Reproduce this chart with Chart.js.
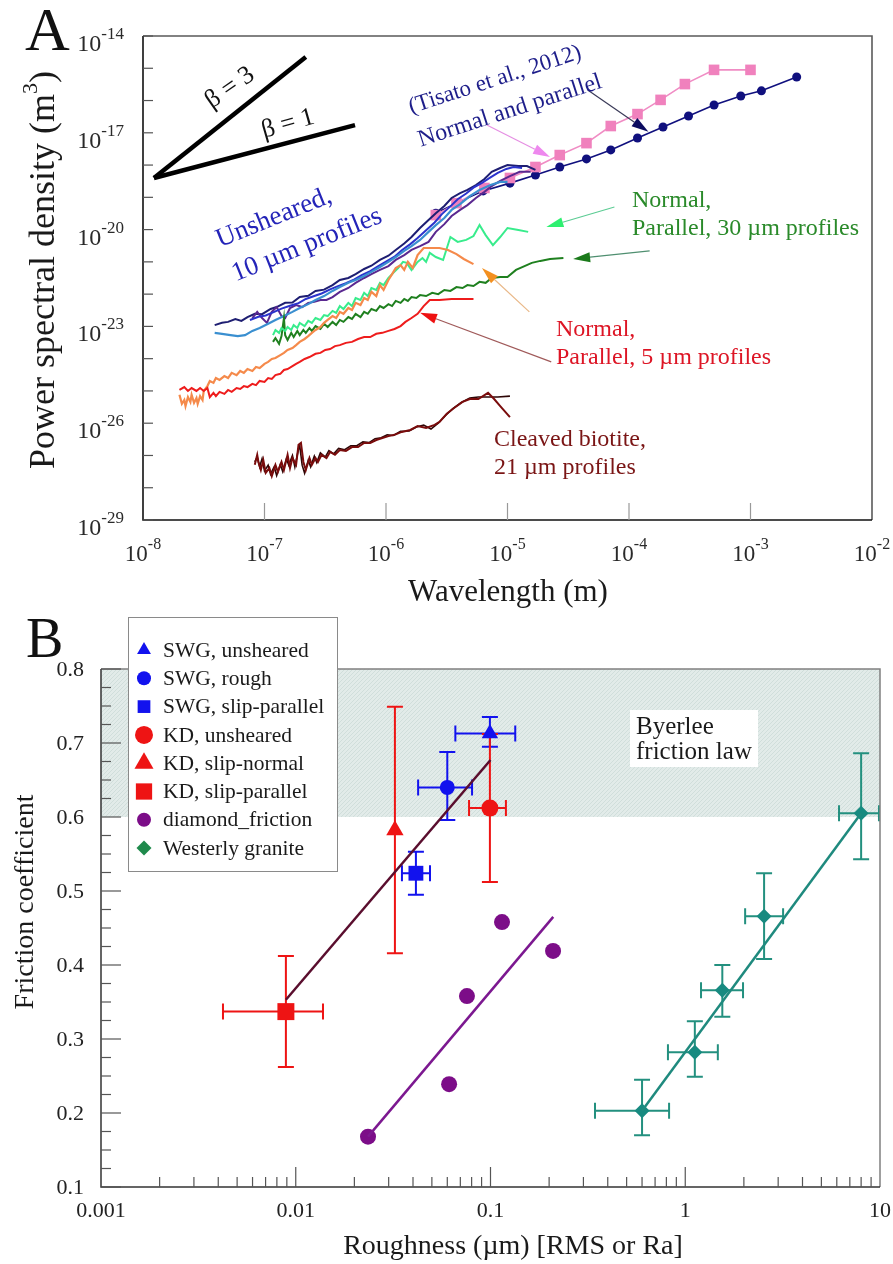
<!DOCTYPE html>
<html>
<head>
<meta charset="utf-8">
<script src="https://cdn.jsdelivr.net/npm/chart.js@4.4.1/dist/chart.umd.min.js"></script>
<style>
  html, body { margin: 0; padding: 0; background: #fff; }
  .panel { position: absolute; left: 0; width: 893px; }
  #panelA { top: 0; height: 610px; }
  #panelB { top: 610px; height: 654px; }
</style>
</head>
<body>
<div class="panel" id="panelA"><canvas id="chartA" width="893" height="610"></canvas></div>
<div class="panel" id="panelB"><canvas id="chartB" width="893" height="654"></canvas></div>
<script>
// ---------- Panel A : PSD vs wavelength, values given as [log10 wavelength (m), log10 PSD (m^3)] ----------
const wavelengthDecades = [-8, -7, -6, -5, -4, -3, -2];
const psdLabelDecades = [-14, -17, -20, -23, -26, -29];

const slopeBeta3 = [[-7.91, -18.40], [-6.66, -14.65]];
const slopeBeta1 = [[-7.91, -18.40], [-6.255, -16.76]];

// unsheared, 10 um profiles
const psdNavy = [[-7.41,-22.96],[-7.35,-22.89],[-7.30,-22.86],[-7.24,-22.77],[-7.19,-22.83],[-7.14,-22.71],[-7.08,-22.61],[-7.02,-22.62],[-6.95,-22.46],[-6.90,-22.40],[-6.83,-22.27],[-6.77,-22.26],[-6.71,-22.09],[-6.64,-22.05],[-6.58,-21.90],[-6.51,-21.86],[-6.44,-21.72],[-6.38,-21.56],[-6.31,-21.50],[-6.25,-21.38],[-6.18,-21.22],[-6.12,-21.12],[-6.05,-20.94],[-5.98,-20.81],[-5.92,-20.63],[-5.85,-20.43],[-5.79,-20.23],[-5.72,-19.95],[-5.65,-19.70],[-5.59,-19.49],[-5.52,-19.27],[-5.46,-19.02],[-5.39,-18.87],[-5.33,-18.77],[-5.26,-18.62],[-5.19,-18.43],[-5.13,-18.21],[-5.06,-18.09],[-5.00,-18.00],[-4.91,-18.03],[-4.84,-18.03],[-4.77,-18.15]];
const psdBlue = [[-7.12,-22.80],[-7.05,-22.70],[-6.99,-22.66],[-6.92,-22.55],[-6.86,-22.45],[-6.79,-22.36],[-6.72,-22.28],[-6.66,-22.15],[-6.59,-22.06],[-6.53,-21.98],[-6.46,-21.85],[-6.40,-21.76],[-6.33,-21.66],[-6.26,-21.54],[-6.20,-21.41],[-6.13,-21.29],[-6.07,-21.15],[-6.00,-20.99],[-5.93,-20.84],[-5.87,-20.64],[-5.80,-20.45],[-5.74,-20.26],[-5.67,-20.02],[-5.60,-19.78],[-5.54,-19.52],[-5.47,-19.28],[-5.41,-19.06],[-5.34,-18.88],[-5.28,-18.70],[-5.21,-18.55],[-5.14,-18.38],[-5.08,-18.24],[-5.01,-18.12],[-4.95,-18.06],[-4.88,-18.09]];
const psdSky = [[-7.41,-23.20],[-7.35,-23.23],[-7.28,-23.27],[-7.22,-23.30],[-7.16,-23.27],[-7.10,-23.14],[-7.04,-23.05],[-6.97,-22.92],[-6.91,-22.80],[-6.84,-22.68],[-6.77,-22.55],[-6.71,-22.43],[-6.64,-22.31],[-6.58,-22.18],[-6.51,-22.06],[-6.44,-21.90],[-6.38,-21.78],[-6.31,-21.65],[-6.25,-21.56],[-6.18,-21.44],[-6.12,-21.31],[-6.05,-21.16],[-5.98,-21.00],[-5.92,-20.85],[-5.85,-20.66],[-5.79,-20.51],[-5.72,-20.32],[-5.65,-20.07],[-5.59,-19.86],[-5.52,-19.64],[-5.46,-19.39],[-5.39,-19.21],[-5.31,-18.96],[-5.23,-18.77],[-5.14,-18.62],[-5.06,-18.52],[-5.00,-18.52]];
const psdPurple = [[-7.10,-22.74],[-7.06,-22.55],[-7.02,-22.74],[-6.98,-22.89],[-6.94,-22.55],[-6.90,-22.40],[-6.86,-22.68],[-6.83,-22.74],[-6.79,-22.43],[-6.74,-22.34],[-6.69,-22.40],[-6.64,-22.27],[-6.59,-22.24],[-6.54,-22.18],[-6.49,-22.18],[-6.44,-22.09],[-6.38,-21.93],[-6.31,-21.81],[-6.25,-21.65],[-6.18,-21.50],[-6.12,-21.38],[-6.05,-21.25],[-5.98,-21.13],[-5.92,-20.94],[-5.85,-20.79],[-5.79,-20.63],[-5.72,-20.51],[-5.65,-20.38],[-5.59,-20.07],[-5.52,-19.83],[-5.46,-19.58],[-5.39,-19.39],[-5.33,-19.24],[-5.26,-19.02],[-5.19,-18.83],[-5.13,-18.65],[-5.06,-18.49],[-4.98,-18.34],[-4.90,-18.21],[-4.81,-18.21]];

// 30 um profiles
const psdGreenParallel = [[-6.93,-23.48],[-6.91,-23.36],[-6.88,-23.54],[-6.86,-23.30],[-6.84,-22.74],[-6.83,-23.27],[-6.81,-23.42],[-6.78,-23.20],[-6.76,-23.33],[-6.73,-23.14],[-6.71,-23.27],[-6.68,-23.11],[-6.66,-23.20],[-6.63,-23.05],[-6.61,-23.14],[-6.58,-22.99],[-6.54,-23.08],[-6.51,-22.92],[-6.48,-23.02],[-6.44,-22.86],[-6.41,-22.96],[-6.38,-22.80],[-6.35,-22.86],[-6.31,-22.71],[-6.28,-22.77],[-6.25,-22.61],[-6.21,-22.71],[-6.18,-22.55],[-6.15,-22.61],[-6.12,-22.46],[-6.08,-22.52],[-6.05,-22.37],[-6.02,-22.43],[-5.98,-22.31],[-5.95,-22.37],[-5.92,-22.21],[-5.88,-22.27],[-5.85,-22.15],[-5.82,-22.21],[-5.79,-22.09],[-5.75,-22.12],[-5.72,-22.03],[-5.67,-22.06],[-5.62,-21.96],[-5.57,-22.00],[-5.52,-21.87],[-5.47,-21.90],[-5.42,-21.78],[-5.37,-21.81],[-5.33,-21.72],[-5.28,-21.75],[-5.23,-21.62],[-5.18,-21.65],[-5.13,-21.50],[-5.06,-21.47],[-5.00,-21.47],[-4.93,-21.25],[-4.86,-21.13],[-4.80,-21.03],[-4.73,-20.97],[-4.65,-20.91],[-4.54,-20.88]];
const psdGreenNormal = [[-6.93,-23.27],[-6.91,-23.11],[-6.88,-23.20],[-6.86,-23.05],[-6.83,-23.14],[-6.81,-23.02],[-6.78,-23.11],[-6.76,-22.96],[-6.73,-23.05],[-6.71,-22.89],[-6.67,-22.99],[-6.64,-22.83],[-6.61,-22.89],[-6.58,-22.74],[-6.54,-22.80],[-6.51,-22.65],[-6.48,-22.68],[-6.44,-22.52],[-6.41,-22.58],[-6.38,-22.37],[-6.35,-22.46],[-6.31,-22.27],[-6.28,-22.37],[-6.25,-22.12],[-6.21,-22.18],[-6.18,-21.96],[-6.15,-22.06],[-6.12,-21.81],[-6.08,-21.87],[-6.05,-21.65],[-6.02,-21.72],[-5.98,-21.50],[-5.94,-21.34],[-5.90,-21.19],[-5.86,-21.00],[-5.83,-21.03],[-5.79,-21.25],[-5.74,-21.00],[-5.70,-20.88],[-5.67,-21.00],[-5.64,-20.72],[-5.59,-20.85],[-5.53,-20.94],[-5.47,-20.23],[-5.41,-20.38],[-5.34,-20.32],[-5.28,-20.20],[-5.23,-19.86],[-5.18,-20.17],[-5.12,-20.48],[-5.06,-20.23],[-5.00,-19.95],[-4.91,-20.01],[-4.83,-20.07]];

// 5 um profiles
const psdOrangeNormal = [[-7.70,-25.12],[-7.68,-25.40],[-7.66,-25.28],[-7.65,-25.47],[-7.63,-25.19],[-7.61,-25.34],[-7.60,-25.12],[-7.58,-25.37],[-7.56,-25.22],[-7.55,-25.40],[-7.53,-25.16],[-7.51,-25.28],[-7.50,-25.00],[-7.47,-24.85],[-7.45,-24.69],[-7.42,-24.75],[-7.40,-24.60],[-7.37,-24.66],[-7.33,-24.54],[-7.30,-24.60],[-7.27,-24.44],[-7.23,-24.51],[-7.20,-24.38],[-7.17,-24.44],[-7.14,-24.32],[-7.10,-24.38],[-7.07,-24.26],[-7.04,-24.29],[-7.00,-24.16],[-6.97,-24.10],[-6.94,-24.01],[-6.91,-23.98],[-6.87,-23.89],[-6.84,-23.82],[-6.81,-23.73],[-6.77,-23.67],[-6.74,-23.58],[-6.71,-23.48],[-6.67,-23.39],[-6.64,-23.30],[-6.61,-23.20],[-6.58,-23.11],[-6.54,-23.02],[-6.51,-22.89],[-6.48,-22.80],[-6.44,-22.68],[-6.41,-22.74],[-6.38,-22.55],[-6.35,-22.61],[-6.31,-22.43],[-6.28,-22.49],[-6.25,-22.27],[-6.21,-22.34],[-6.18,-22.12],[-6.15,-22.18],[-6.12,-21.93],[-6.08,-22.06],[-6.05,-21.72],[-6.02,-21.87],[-5.98,-21.56],[-5.95,-21.38],[-5.92,-21.19],[-5.88,-21.10],[-5.85,-21.25],[-5.82,-21.00],[-5.78,-21.19],[-5.74,-20.79],[-5.69,-20.57],[-5.62,-20.57],[-5.56,-20.57],[-5.49,-20.63],[-5.42,-20.76],[-5.36,-20.91],[-5.28,-21.07]];
const psdRedParallel = [[-7.70,-24.97],[-7.66,-24.88],[-7.63,-25.00],[-7.60,-24.91],[-7.56,-25.00],[-7.53,-24.91],[-7.50,-25.00],[-7.47,-24.91],[-7.45,-25.19],[-7.42,-25.06],[-7.40,-25.16],[-7.37,-25.03],[-7.33,-25.09],[-7.30,-24.97],[-7.27,-25.03],[-7.23,-24.91],[-7.20,-24.94],[-7.17,-24.85],[-7.14,-24.88],[-7.10,-24.78],[-7.07,-24.82],[-7.04,-24.69],[-7.00,-24.72],[-6.97,-24.60],[-6.94,-24.63],[-6.91,-24.51],[-6.87,-24.47],[-6.84,-24.35],[-6.81,-24.32],[-6.77,-24.23],[-6.74,-24.16],[-6.71,-24.10],[-6.67,-24.01],[-6.63,-23.95],[-6.58,-23.85],[-6.54,-23.82],[-6.50,-23.73],[-6.46,-23.70],[-6.42,-23.61],[-6.38,-23.58],[-6.33,-23.51],[-6.28,-23.48],[-6.23,-23.39],[-6.18,-23.33],[-6.13,-23.33],[-6.08,-23.23],[-6.03,-23.20],[-5.98,-23.14],[-5.93,-23.08],[-5.88,-22.99],[-5.84,-22.86],[-5.79,-22.74],[-5.74,-22.61],[-5.69,-22.37],[-5.64,-22.18],[-5.56,-22.18],[-5.46,-22.15],[-5.36,-22.15],[-5.28,-22.15]];

// cleaved biotite, 21 um profiles
const psdBiotiteA = [[-7.08,-27.29],[-7.06,-26.98],[-7.05,-27.20],[-7.03,-27.45],[-7.01,-27.14],[-6.99,-27.54],[-6.96,-27.39],[-6.94,-27.64],[-6.91,-27.29],[-6.89,-27.51],[-6.86,-27.20],[-6.84,-27.45],[-6.81,-26.98],[-6.79,-27.39],[-6.77,-27.08],[-6.74,-27.29],[-6.72,-26.67],[-6.70,-26.61],[-6.68,-27.20],[-6.66,-27.45],[-6.63,-27.08],[-6.61,-27.29],[-6.58,-27.08],[-6.56,-27.20],[-6.53,-26.98],[-6.49,-27.08],[-6.46,-26.89],[-6.42,-26.98],[-6.38,-26.83],[-6.33,-26.86],[-6.28,-26.74],[-6.23,-26.74],[-6.18,-26.61],[-6.13,-26.61],[-6.08,-26.52],[-6.03,-26.46],[-5.98,-26.40],[-5.93,-26.36],[-5.87,-26.27],[-5.80,-26.21],[-5.74,-26.09],[-5.67,-26.15],[-5.60,-26.05],[-5.56,-25.96],[-5.50,-25.71],[-5.44,-25.53],[-5.37,-25.34],[-5.31,-25.25],[-5.24,-25.25],[-5.16,-25.06],[-5.11,-25.25],[-5.06,-25.47],[-4.98,-25.81]];
const psdBiotiteB = [[-7.08,-27.20],[-7.06,-27.05],[-7.04,-27.35],[-7.02,-27.10],[-7.00,-27.48],[-6.97,-27.30],[-6.95,-27.58],[-6.92,-27.35],[-6.90,-27.62],[-6.87,-27.28],[-6.85,-27.50],[-6.82,-27.10],[-6.80,-27.30],[-6.77,-27.00],[-6.75,-27.35],[-6.72,-26.80],[-6.71,-26.70],[-6.69,-27.30],[-6.67,-27.55],[-6.64,-27.15],[-6.62,-27.35],[-6.59,-27.02],[-6.57,-27.22],[-6.54,-26.92],[-6.50,-27.05],[-6.47,-26.85],[-6.43,-26.95],[-6.39,-26.78],[-6.34,-26.82],[-6.29,-26.70],[-6.24,-26.70],[-6.19,-26.58],[-6.14,-26.60],[-6.09,-26.48],[-6.04,-26.45],[-5.99,-26.36],[-5.94,-26.38],[-5.88,-26.25],[-5.81,-26.24],[-5.75,-26.12],[-5.69,-26.06],[-5.63,-26.18],[-5.57,-26.00],[-5.51,-25.76],[-5.45,-25.55],[-5.38,-25.36],[-5.31,-25.22],[-5.24,-25.19],[-5.16,-25.19],[-5.08,-25.19],[-4.98,-25.16]];

// Tisato et al. (2012)
const tisatoNormal = [[-5.59,-19.49],[-5.42,-19.18],[-5.20,-18.80],[-4.98,-18.56],[-4.77,-18.31],[-4.57,-18.06],[-4.35,-17.81],[-4.15,-17.53],[-3.93,-17.16],[-3.72,-16.82],[-3.51,-16.48],[-3.30,-16.14],[-3.08,-15.86],[-2.91,-15.70],[-2.62,-15.27]];
const tisatoParallel = [[-5.59,-19.55],[-5.42,-19.18],[-5.19,-18.71],[-4.98,-18.40],[-4.77,-18.06],[-4.57,-17.69],[-4.35,-17.32],[-4.15,-16.79],[-3.93,-16.42],[-3.74,-15.98],[-3.54,-15.49],[-3.30,-15.05],[-3.00,-15.05]];

// annotation arrows, [from, to] in the same log units
const arrowsA = [
  { from: [-5.17, -16.76], to: [-4.65, -17.75], line: '#e58fe3', head: '#ee88ee' },
  { from: [-4.34, -15.67], to: [-3.84, -16.97], line: '#3a3a58', head: '#0c0c60' },
  { from: [-4.12, -19.30], to: [-4.68, -19.92], line: '#5ccc94', head: '#2ef070' },
  { from: [-3.83, -20.66], to: [-4.46, -20.91], line: '#4f8f70', head: '#1b7a1b' },
  { from: [-4.82, -22.55], to: [-5.21, -21.19], line: '#e9b888', head: '#f39020' },
  { from: [-4.64, -24.10], to: [-5.72, -22.58], line: '#a05a5a', head: '#ee1111' }
];

// ---------- Panel B : friction vs roughness, rows [x, y, xLow, xHigh, yLow, yHigh] ----------
const roughnessTicks = [0.001, 0.01, 0.1, 1, 10];
const roughnessLabels = ['0.001', '0.01', '0.1', '1', '10'];
const frictionTicks = [0.1, 0.2, 0.3, 0.4, 0.5, 0.6, 0.7, 0.8];
const byerleeRange = [0.6, 0.8];

const swgUnsheared = [[0.0993, 0.713, 0.066, 0.134, 0.695, 0.735]];
const swgRough = [[0.060, 0.640, 0.0425, 0.0804, 0.596, 0.688]];
const swgSlipParallel = [[0.0414, 0.524, 0.0351, 0.0489, 0.495, 0.553]];
const kdUnsheared = [[0.0993, 0.612, 0.0776, 0.120, 0.512, 0.712]];
const kdSlipNormal = [[0.0323, 0.582, null, null, 0.416, 0.749]];
const kdSlipParallel = [[0.0089, 0.337, 0.00423, 0.0138, 0.262, 0.412]];
const diamondFriction = [[0.0235, 0.168], [0.0613, 0.239], [0.0757, 0.358], [0.1146, 0.458], [0.2095, 0.419]];
const westerlyGranite = [
  [0.60, 0.203, 0.344, 0.826, 0.170, 0.245],
  [1.12, 0.282, 0.815, 1.47, 0.249, 0.324],
  [1.55, 0.366, 1.205, 1.98, 0.330, 0.400],
  [2.54, 0.466, 2.03, 3.18, 0.408, 0.524],
  [8.0, 0.605, 6.16, 9.88, 0.543, 0.686]
];
const kdFit = [[0.0089, 0.353], [0.1, 0.677]];
const diamondFit = [[0.0235, 0.168], [0.21, 0.465]];
const graniteFit = [[0.6, 0.203], [8.0, 0.605]];

// ---------- helpers ----------
const SERIF = '"Liberation Serif", "Times New Roman", serif';
const fromLog = rows => rows.map(([lx, ly]) => ({ x: 10 ** lx, y: 10 ** ly }));
const toPts = rows => rows.map(r => ({ x: r[0], y: r[1] }));

function lineSet(rows, color, width) {
  return { data: fromLog(rows), showLine: true, borderColor: color, borderWidth: width || 2, pointRadius: 0, tension: 0 };
}

function drawPower(ctx, exp, x, y, align, baseSize, expSize, lift) {
  const txt = String(exp);
  ctx.font = baseSize + 'px ' + SERIF;
  const wb = ctx.measureText('10').width;
  ctx.font = expSize + 'px ' + SERIF;
  const we = ctx.measureText(txt).width;
  const left = align === 'right' ? x - wb - we : x - (wb + we) / 2;
  ctx.textAlign = 'left';
  ctx.textBaseline = 'alphabetic';
  ctx.font = baseSize + 'px ' + SERIF;
  ctx.fillText('10', left, y);
  ctx.font = expSize + 'px ' + SERIF;
  ctx.fillText(txt, left + wb, y - lift);
}

function drawArrow(ctx, x1, y1, x2, y2, lineColor, headColor) {
  const ang = Math.atan2(y2 - y1, x2 - x1);
  const len = 17, half = 5;
  const bx = x2 - Math.cos(ang) * len, by = y2 - Math.sin(ang) * len;
  ctx.strokeStyle = lineColor;
  ctx.lineWidth = 1.2;
  ctx.beginPath(); ctx.moveTo(x1, y1); ctx.lineTo(bx, by); ctx.stroke();
  ctx.fillStyle = headColor;
  ctx.beginPath();
  ctx.moveTo(x2, y2);
  ctx.lineTo(bx - Math.sin(ang) * half, by + Math.cos(ang) * half);
  ctx.lineTo(bx + Math.sin(ang) * half, by - Math.cos(ang) * half);
  ctx.closePath(); ctx.fill();
}

function rotText(ctx, text, x, y, deg, size, color) {
  ctx.save();
  ctx.translate(x, y);
  ctx.rotate(deg * Math.PI / 180);
  ctx.font = size + 'px ' + SERIF;
  ctx.fillStyle = color;
  ctx.textAlign = 'center';
  ctx.textBaseline = 'middle';
  ctx.fillText(text, 0, 0);
  ctx.restore();
}

function plainText(ctx, text, x, y, size, color, align) {
  ctx.font = size + 'px ' + SERIF;
  ctx.fillStyle = color;
  ctx.textAlign = align || 'left';
  ctx.textBaseline = 'alphabetic';
  ctx.fillText(text, x, y);
}

// ---------- Panel A decorations ----------
const decorA = {
  id: 'decorA',
  afterDraw(chart) {
    const { ctx, chartArea: a, scales: { x, y } } = chart;
    ctx.save();

    // frame
    ctx.lineWidth = 1.6;
    ctx.strokeStyle = '#5a5a5a';
    ctx.beginPath(); ctx.moveTo(a.left, a.top); ctx.lineTo(a.right, a.top); ctx.lineTo(a.right, a.bottom); ctx.stroke();
    ctx.strokeStyle = '#111';
    ctx.beginPath(); ctx.moveTo(a.left, a.top); ctx.lineTo(a.left, a.bottom); ctx.lineTo(a.right, a.bottom); ctx.stroke();

    // ticks
    ctx.lineWidth = 1.2;
    ctx.strokeStyle = '#555';
    for (let e = -29; e <= -14; e++) {
      const py = y.getPixelForValue(10 ** e);
      ctx.beginPath(); ctx.moveTo(a.left, py); ctx.lineTo(a.left + 10, py); ctx.stroke();
    }
    ctx.strokeStyle = '#999';
    wavelengthDecades.slice(1, -1).forEach(e => {
      const px = x.getPixelForValue(10 ** e);
      ctx.beginPath(); ctx.moveTo(px, a.bottom); ctx.lineTo(px, a.bottom - 17); ctx.stroke();
    });

    // tick labels
    ctx.fillStyle = '#2a2a2a';
    psdLabelDecades.forEach(e => drawPower(ctx, e, 124, y.getPixelForValue(10 ** e) + 15, 'right', 24, 17, 12));
    wavelengthDecades.forEach(e => drawPower(ctx, e, x.getPixelForValue(10 ** e), 561, 'center', 23, 16, 12));

    // axis titles
    ctx.fillStyle = '#1a1a1a';
    ctx.font = '31px ' + SERIF;
    ctx.textAlign = 'center'; ctx.textBaseline = 'middle';
    ctx.fillText('Wavelength (m)', 508, 593);

    ctx.save();
    ctx.translate(44, 270);
    ctx.rotate(-Math.PI / 2);
    ctx.font = '36px ' + SERIF;
    const t1 = 'Power spectral density (m';
    const w1 = ctx.measureText(t1).width;
    const w3 = ctx.measureText(')').width;
    ctx.font = '22px ' + SERIF;
    const w2 = ctx.measureText('3').width;
    const sx = -(w1 + w2 + w3) / 2;
    ctx.textAlign = 'left'; ctx.textBaseline = 'alphabetic';
    ctx.font = '36px ' + SERIF; ctx.fillText(t1, sx, 10);
    ctx.font = '22px ' + SERIF; ctx.fillText('3', sx + w1, -7);
    ctx.font = '36px ' + SERIF; ctx.fillText(')', sx + w1 + w2, 10);
    ctx.restore();

    // panel letter
    plainText(ctx, 'A', 25, 50, 62, '#111');

    // slope labels
    rotText(ctx, 'β = 3', 230, 88, -35, 26, '#111');
    rotText(ctx, 'β = 1', 288, 124, -16, 26, '#111');

    // arrows
    arrowsA.forEach(ar => drawArrow(ctx,
      x.getPixelForValue(10 ** ar.from[0]), y.getPixelForValue(10 ** ar.from[1]),
      x.getPixelForValue(10 ** ar.to[0]), y.getPixelForValue(10 ** ar.to[1]),
      ar.line, ar.head));

    // series notes
    rotText(ctx, '(Tisato et al., 2012)', 495, 80, -18, 23, '#1e1e8a');
    rotText(ctx, 'Normal and parallel', 510, 111, -18, 24, '#1e1e8a');
    rotText(ctx, 'Unsheared,', 274, 218, -22, 27, '#2424b8');
    rotText(ctx, '10 µm profiles', 307, 245, -22, 27, '#2424b8');
    plainText(ctx, 'Normal,', 632, 207, 24, '#2a8a2a');
    plainText(ctx, 'Parallel, 30 µm profiles', 632, 235, 24, '#2a8a2a');
    plainText(ctx, 'Normal,', 556, 336, 24, '#dd1525');
    plainText(ctx, 'Parallel, 5 µm profiles', 556, 364, 24, '#dd1525');
    plainText(ctx, 'Cleaved biotite,', 494, 446, 24, '#7a1515');
    plainText(ctx, '21 µm profiles', 494, 474, 24, '#7a1515');

    ctx.restore();
  }
};

new Chart(document.getElementById('chartA'), {
  type: 'scatter',
  data: {
    datasets: [
      lineSet(slopeBeta3, '#000', 4.5),
      lineSet(slopeBeta1, '#000', 4.5),
      lineSet(psdRedParallel, '#ee1c1c', 2),
      lineSet(psdOrangeNormal, '#f58a4b', 2.2),
      lineSet(psdGreenNormal, '#38ec8c', 2),
      lineSet(psdGreenParallel, '#1f801f', 2),
      lineSet(psdBiotiteA, '#7a0c0c', 2),
      lineSet(psdBiotiteB, '#2e0707', 1.6),
      lineSet(psdSky, '#3a8fd0', 2.2),
      lineSet(psdBlue, '#2b33cc', 2),
      lineSet(psdPurple, '#5a2890', 2),
      lineSet(psdNavy, '#1e1e72', 2),
      { data: fromLog(tisatoParallel), showLine: true, borderColor: '#f08cc4', borderWidth: 1.6,
        pointStyle: 'rect', pointRadius: 7.5, pointBackgroundColor: '#f081bd', pointBorderWidth: 0 },
      { data: fromLog(tisatoNormal), showLine: true, borderColor: '#10107e', borderWidth: 1.6,
        pointStyle: 'circle', pointRadius: 4.5, pointBackgroundColor: '#10107e', pointBorderWidth: 0 }
    ]
  },
  options: {
    responsive: false,
    devicePixelRatio: 1,
    animation: false,
    layout: { padding: { left: 143, top: 36, right: 21, bottom: 90 } },
    plugins: { legend: { display: false }, tooltip: { enabled: false } },
    scales: {
      x: { type: 'logarithmic', min: 1e-8, max: 1e-2, display: false },
      y: { type: 'logarithmic', min: 1e-29, max: 1e-14, display: false }
    }
  },
  plugins: [decorA]
});

// ---------- Panel B ----------
function hatchPattern(ctx) {
  const c = document.createElement('canvas');
  c.width = 4; c.height = 4;
  const g = c.getContext('2d');
  g.fillStyle = '#e2ebe9';
  g.fillRect(0, 0, 4, 4);
  g.strokeStyle = '#d0dedb';
  g.lineWidth = 1;
  g.beginPath(); g.moveTo(0, 4); g.lineTo(4, 0); g.stroke();
  return ctx.createPattern(c, 'repeat');
}

function drawMarker(ctx, style, cx, cy, r, color) {
  ctx.fillStyle = color;
  ctx.beginPath();
  if (style === 'circle') {
    ctx.arc(cx, cy, r, 0, Math.PI * 2);
  } else if (style === 'triangle') {
    for (let i = 0; i < 3; i++) {
      const ang = i * 2 * Math.PI / 3;
      const px = cx + Math.sin(ang) * r, py = cy - Math.cos(ang) * r;
      if (i === 0) ctx.moveTo(px, py); else ctx.lineTo(px, py);
    }
    ctx.closePath();
  } else if (style === 'rect') {
    const s = r * Math.SQRT1_2;
    ctx.rect(cx - s, cy - s, 2 * s, 2 * s);
  } else if (style === 'rectRot') {
    ctx.moveTo(cx, cy - r); ctx.lineTo(cx + r, cy); ctx.lineTo(cx, cy + r); ctx.lineTo(cx - r, cy);
    ctx.closePath();
  }
  ctx.fill();
}

const BLUE = '#1212ee', RED = '#ee1414', PURPLE = '#7c0d88', TEAL = '#178a80';

const errorGroups = [
  { rows: swgUnsheared, color: BLUE },
  { rows: swgRough, color: BLUE },
  { rows: swgSlipParallel, color: BLUE },
  { rows: kdSlipNormal, color: RED },
  { rows: kdUnsheared, color: RED },
  { rows: kdSlipParallel, color: RED },
  { rows: westerlyGranite, color: '#23907f' }
];

const legendItems = [
  { label: 'SWG, unsheared', style: 'triangle', r: 8, color: BLUE },
  { label: 'SWG, rough', style: 'circle', r: 7, color: BLUE },
  { label: 'SWG, slip-parallel', style: 'rect', r: 9, color: BLUE },
  { label: 'KD, unsheared', style: 'circle', r: 9, color: RED },
  { label: 'KD, slip-normal', style: 'triangle', r: 11, color: RED },
  { label: 'KD, slip-parallel', style: 'rect', r: 11.5, color: RED },
  { label: 'diamond_friction', style: 'circle', r: 7, color: PURPLE },
  { label: 'Westerly granite', style: 'rectRot', r: 7.5, color: '#1f8a4c' }
];

const decorB = {
  id: 'decorB',
  beforeDatasetsDraw(chart) {
    const { ctx, chartArea: a, scales: { x, y } } = chart;
    ctx.save();
    // Byerlee friction band
    const yTop = y.getPixelForValue(byerleeRange[1]);
    const yBot = y.getPixelForValue(byerleeRange[0]);
    ctx.fillStyle = hatchPattern(ctx);
    ctx.fillRect(a.left, yTop, a.right - a.left, yBot - yTop);

    // error bars
    const cap = 8;
    ctx.lineWidth = 2;
    errorGroups.forEach(({ rows, color }) => rows.forEach(r => {
      const px = x.getPixelForValue(r[0]), py = y.getPixelForValue(r[1]);
      ctx.strokeStyle = color;
      ctx.beginPath();
      if (r[4] != null) {
        const p1 = y.getPixelForValue(r[4]), p2 = y.getPixelForValue(r[5]);
        ctx.moveTo(px, p1); ctx.lineTo(px, p2);
        ctx.moveTo(px - cap, p1); ctx.lineTo(px + cap, p1);
        ctx.moveTo(px - cap, p2); ctx.lineTo(px + cap, p2);
      }
      if (r[2] != null) {
        const q1 = x.getPixelForValue(r[2]), q2 = x.getPixelForValue(r[3]);
        ctx.moveTo(q1, py); ctx.lineTo(q2, py);
        ctx.moveTo(q1, py - cap); ctx.lineTo(q1, py + cap);
        ctx.moveTo(q2, py - cap); ctx.lineTo(q2, py + cap);
      }
      ctx.stroke();
    }));
    ctx.restore();
  },
  afterDatasetsDraw(chart) {
    const { ctx, chartArea: a, scales: { x, y } } = chart;
    ctx.save();

    // frame
    ctx.lineWidth = 1.5;
    ctx.strokeStyle = '#808080';
    ctx.beginPath(); ctx.moveTo(a.left, a.top); ctx.lineTo(a.right, a.top); ctx.lineTo(a.right, a.bottom); ctx.stroke();
    ctx.strokeStyle = '#333';
    ctx.beginPath(); ctx.moveTo(a.left, a.top); ctx.lineTo(a.left, a.bottom); ctx.lineTo(a.right, a.bottom); ctx.stroke();

    // y ticks: majors every 0.1, minors every 0.025
    ctx.lineWidth = 1.2;
    ctx.strokeStyle = '#555';
    for (let i = 0; i <= 28; i++) {
      const v = 0.1 + i * 0.025;
      const py = y.getPixelForValue(v);
      const len = i % 4 === 0 ? 20 : 10;
      ctx.beginPath(); ctx.moveTo(a.left, py); ctx.lineTo(a.left + len, py); ctx.stroke();
    }
    // x ticks: decades and 2..9 minors
    roughnessTicks.slice(0, -1).forEach(d => {
      for (let m = 1; m <= 9; m++) {
        if (d === 0.001 && m === 1) continue;
        const px = x.getPixelForValue(d * m);
        const len = m === 1 ? 20 : 10;
        ctx.beginPath(); ctx.moveTo(px, a.bottom); ctx.lineTo(px, a.bottom - len); ctx.stroke();
      }
    });

    // tick labels
    ctx.fillStyle = '#222';
    ctx.font = '22px ' + SERIF;
    ctx.textAlign = 'right'; ctx.textBaseline = 'middle';
    frictionTicks.forEach(v => ctx.fillText(v.toFixed(1), 84, y.getPixelForValue(v) + 1));
    ctx.textAlign = 'center';
    roughnessTicks.forEach((v, i) => ctx.fillText(roughnessLabels[i], x.getPixelForValue(v), 601));

    // axis titles
    ctx.fillStyle = '#1a1a1a';
    ctx.font = '28px ' + SERIF;
    ctx.fillText('Roughness (µm) [RMS or Ra]', 513, 637);
    rotText(ctx, 'Friction coefficient', 26, 292, -90, 28, '#1a1a1a');

    // panel letter
    plainText(ctx, 'B', 26, 47, 56, '#111');

    // Byerlee label
    ctx.fillStyle = '#fff';
    ctx.fillRect(630, 100, 128, 57);
    plainText(ctx, 'Byerlee', 636, 124, 25, '#1a1a1a');
    plainText(ctx, 'friction law', 636, 149, 25, '#1a1a1a');

    // legend
    ctx.fillStyle = '#fff';
    ctx.fillRect(128, 7, 209, 254);
    ctx.strokeStyle = '#8a8a8a';
    ctx.lineWidth = 1;
    ctx.strokeRect(128.5, 7.5, 209, 254);
    legendItems.forEach((it, i) => {
      const cy = 40 + i * 28.3;
      drawMarker(ctx, it.style, 144, cy, it.r, it.color);
      ctx.font = '21.5px ' + SERIF;
      ctx.fillStyle = '#1a1a1a';
      ctx.textAlign = 'left'; ctx.textBaseline = 'middle';
      ctx.fillText(it.label, 163, cy + 1);
    });

    ctx.restore();
  }
};

function markerSet(rows, style, r, color) {
  return { data: toPts(rows), pointStyle: style, pointRadius: r, pointBackgroundColor: color, pointBorderWidth: 0, showLine: false };
}
function fitSet(rows, color) {
  return { data: toPts(rows), showLine: true, borderColor: color, borderWidth: 2.5, pointRadius: 0 };
}

new Chart(document.getElementById('chartB'), {
  type: 'scatter',
  data: {
    datasets: [
      fitSet(kdFit, '#5a0e2e'),
      fitSet(diamondFit, '#7c1890'),
      fitSet(graniteFit, '#1f8a7e'),
      markerSet(kdSlipParallel, 'rect', 12, RED),
      markerSet(kdSlipNormal, 'triangle', 10, RED),
      markerSet(kdUnsheared, 'circle', 8.5, RED),
      markerSet(swgSlipParallel, 'rect', 10.5, BLUE),
      markerSet(swgRough, 'circle', 7.5, BLUE),
      markerSet(swgUnsheared, 'triangle', 9.5, BLUE),
      markerSet(diamondFriction, 'circle', 8, PURPLE),
      markerSet(westerlyGranite, 'rectRot', 7.5, TEAL)
    ]
  },
  options: {
    responsive: false,
    devicePixelRatio: 1,
    animation: false,
    layout: { padding: { left: 101, top: 59, right: 13, bottom: 77 } },
    plugins: { legend: { display: false }, tooltip: { enabled: false } },
    scales: {
      x: { type: 'logarithmic', min: 0.001, max: 10, display: false },
      y: { type: 'linear', min: 0.1, max: 0.8, display: false }
    }
  },
  plugins: [decorB]
});
</script>
</body>
</html>
